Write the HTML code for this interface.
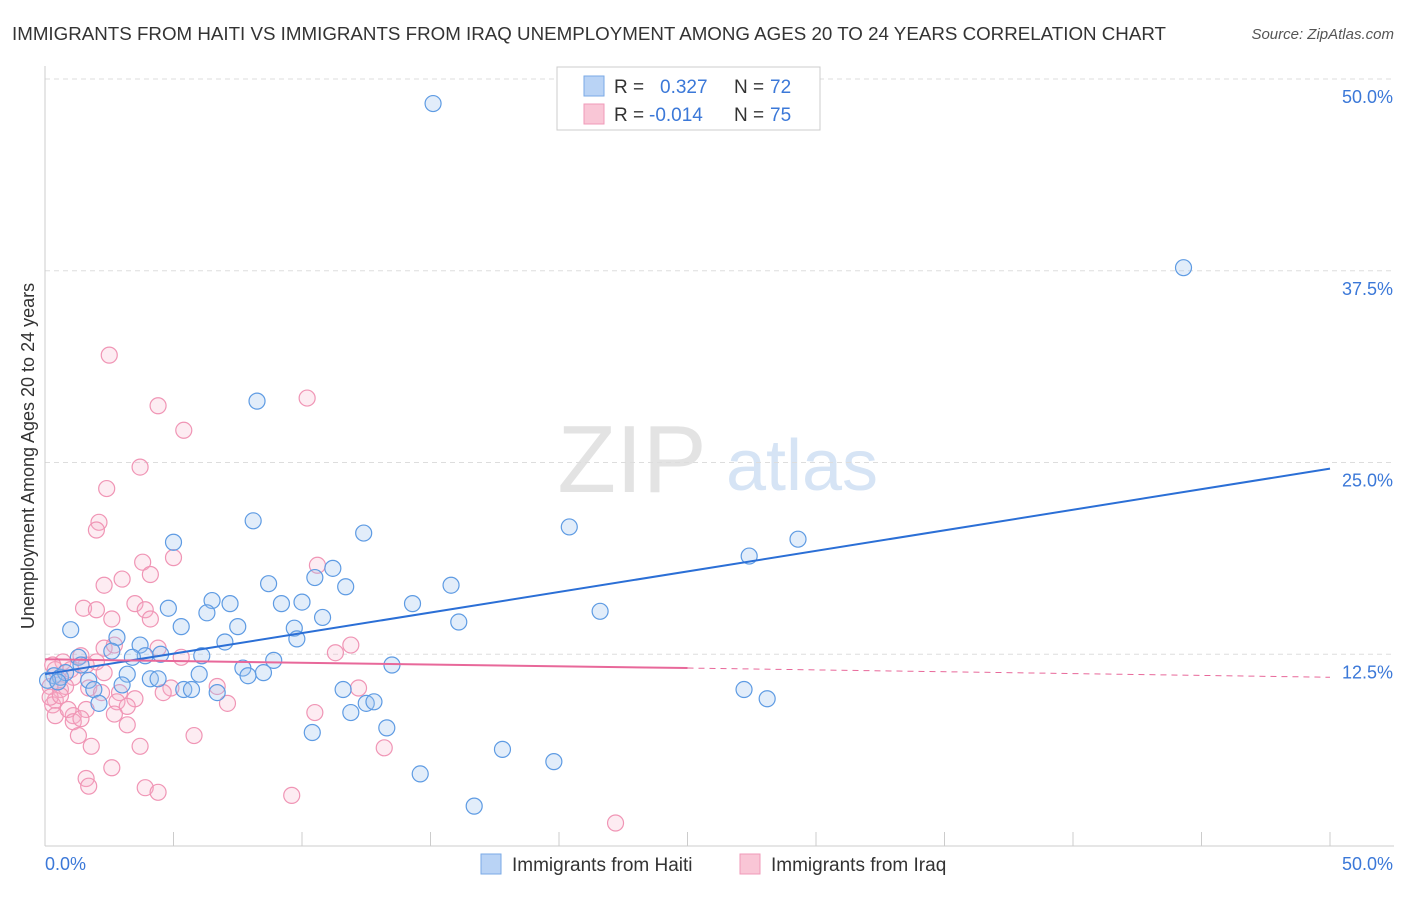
<!DOCTYPE html>
<html><head><meta charset="utf-8"><style>
body{margin:0;background:#fff;font-family:"Liberation Sans",sans-serif;}
svg text{font-family:"Liberation Sans",sans-serif;}
</style></head><body>
<svg id="chart" width="1406" height="892" viewBox="0 0 1406 892" xmlns="http://www.w3.org/2000/svg">
<text x="12" y="40" font-size="18.5" fill="#333" textLength="1154" lengthAdjust="spacingAndGlyphs">IMMIGRANTS FROM HAITI VS IMMIGRANTS FROM IRAQ UNEMPLOYMENT AMONG AGES 20 TO 24 YEARS CORRELATION CHART</text>
<text x="1394" y="39" font-size="15" fill="#555" font-style="italic" text-anchor="end">Source: ZipAtlas.com</text>
<g>
<text x="632" y="492" font-size="96" fill="#e3e3e3" font-family="Liberation Serif, serif" text-anchor="middle">ZIP</text>
<text x="802" y="490" font-size="72" fill="#d6e4f5" text-anchor="middle">atlas</text>
</g>
<g id="grid"></g>
<g id="axes"></g>
<g id="pts"></g>
<g id="lines"></g>
<g>
<rect x="557" y="67" width="263" height="63" fill="#fff" stroke="#ccc"/>
<rect x="584" y="76" width="20" height="20" fill="#b9d3f5" stroke="#7aa9e6"/>
<rect x="584" y="104" width="20" height="20" fill="#f9c6d6" stroke="#f09ab8"/>
<text x="614" y="93" font-size="19" fill="#333">R = </text><text x="660" y="93" font-size="19" fill="#3b78d8">0.327</text>
<text x="734" y="93" font-size="19" fill="#333">N = </text><text x="770" y="93" font-size="19" fill="#3b78d8">72</text>
<text x="614" y="121" font-size="19" fill="#333">R = </text><text x="649" y="121" font-size="19" fill="#3b78d8">-0.014</text>
<text x="734" y="121" font-size="19" fill="#333">N = </text><text x="770" y="121" font-size="19" fill="#3b78d8">75</text>
</g>
<g>
<rect x="481" y="854" width="20" height="20" fill="#b9d3f5" stroke="#7aa9e6"/>
<text x="512" y="871" font-size="19" fill="#333">Immigrants from Haiti</text>
<rect x="740" y="854" width="20" height="20" fill="#f9c6d6" stroke="#f09ab8"/>
<text x="771" y="871" font-size="19" fill="#333">Immigrants from Iraq</text>
</g>
</svg>
<script>
const yTicks=[12.5,25,37.5,50];
const yTickLabels=["12.5%","25.0%","37.5%","50.0%"];
const haitiX=[15.1,44.3,8.25,8.1,12.4,20.4,29.3,27.4,5.0,11.2,10.5,8.7,11.7,15.8,6.5,7.2,9.2,10.0,6.3,4.8,14.3,21.6,10.8,16.1,5.3,1.0,7.5,9.7,2.8,3.7,7.0,9.8,2.6,4.5,3.9,3.4,6.1,1.3,1.4,8.9,13.5,7.7,3.2,6.0,8.5,7.9,0.35,0.6,0.8,1.7,3.0,4.1,4.4,5.4,5.7,6.7,1.9,11.6,27.2,28.1,12.5,12.8,2.1,11.9,13.3,10.4,17.8,19.8,14.6,16.7,0.1,0.5];
const haitiY=[48.4,37.7,29.0,21.2,20.4,20.8,20.0,18.9,19.8,18.1,17.5,17.1,16.9,17.0,16.0,15.8,15.8,15.9,15.2,15.5,15.8,15.3,14.9,14.6,14.3,14.1,14.3,14.2,13.6,13.1,13.3,13.5,12.7,12.5,12.4,12.3,12.4,12.3,11.8,12.1,11.8,11.6,11.2,11.2,11.3,11.1,11.1,11.0,11.3,10.8,10.5,10.9,10.9,10.2,10.2,10.0,10.2,10.2,10.2,9.6,9.3,9.4,9.3,8.7,7.7,7.4,6.3,5.5,4.7,2.6,10.8,10.7];
const iraqX=[2.5,10.2,4.4,5.4,3.7,2.4,2.1,2.0,3.8,5.0,4.1,3.0,2.3,3.5,1.5,2.0,3.9,4.1,10.6,2.6,4.4,11.9,2.3,2.7,5.3,1.4,0.7,11.3,1.6,2.0,1.0,0.4,0.3,1.1,0.2,0.6,0.8,0.5,2.3,1.7,2.9,2.2,3.5,4.9,4.6,6.7,7.1,12.2,0.4,0.3,0.4,1.1,0.9,2.8,3.2,1.6,2.7,1.1,3.2,1.3,5.8,10.5,1.8,3.7,13.2,2.6,1.6,1.7,3.9,4.4,9.6,22.2,0.2,0.6,1.4];
const iraqY=[32.0,29.2,28.7,27.1,24.7,23.3,21.1,20.6,18.5,18.8,17.7,17.4,17.0,15.8,15.5,15.4,15.4,14.8,18.3,14.8,12.9,13.1,12.9,13.1,12.3,12.4,12.0,12.6,11.8,12.0,11.5,11.5,11.8,11.0,10.4,10.2,10.4,10.7,11.3,10.3,10.0,10.0,9.6,10.3,10.0,10.4,9.3,10.3,9.5,9.2,8.5,8.5,8.9,9.4,9.1,8.9,8.6,8.1,7.9,7.2,7.2,8.7,6.5,6.5,6.4,5.1,4.4,3.9,3.8,3.5,3.3,1.5,9.7,9.8,8.3];
const haitiTrend=[11.2,24.6];
const iraqTrend=[12.17,11.6,11.0];
const NS="http://www.w3.org/2000/svg";
const X0=45,X1=1330,Y0=846,YT=79;
const sx=v=>X0+(X1-X0)*v/50;
const sy=v=>Y0-(Y0-YT)*v/50;
function mk(tag,attrs,parent){const e=document.createElementNS(NS,tag);for(const k in attrs)e.setAttribute(k,attrs[k]);document.getElementById(parent).appendChild(e);return e;}
yTicks.forEach((t,i)=>{
 const l=mk('line',{x1:X0,x2:1394,y1:sy(t),y2:sy(t),stroke:'#ddd','stroke-dasharray':'5,4'},'grid');
 
 
 const tx=mk('text',{x:1393,y:sy(t)+24,'font-size':18,fill:'#3b78d8','text-anchor':'end'},'grid');
 tx.textContent=yTickLabels[i];
 
 
});
const ax=mk('line',{x1:X0,x2:1394,y1:Y0,y2:Y0,stroke:'#ccc'},'axes');


const ay=mk('line',{x1:X0,x2:X0,y1:66,y2:Y0,stroke:'#ccc'},'axes');


for(let v=5;v<=50;v+=5){const t=mk('line',{x1:sx(v),x2:sx(v),y1:Y0,y2:Y0-14,stroke:'#ccc'},'axes');
 
 }
let t0=mk('text',{x:45,y:870,'font-size':18,fill:'#3b78d8'},'axes');t0.textContent='0.0%';


let t1=mk('text',{x:1393,y:870,'font-size':18,fill:'#3b78d8','text-anchor':'end'},'axes');t1.textContent='50.0%';


let yt=mk('text',{x:0,y:0,'font-size':18,fill:'#333','text-anchor':'middle',transform:'translate(34,456) rotate(-90)'},'axes');
yt.textContent='Unemployment Among Ages 20 to 24 years';


iraqX.forEach((x,i)=>{const c=mk('circle',{cx:sx(x),cy:sy(iraqY[i]),r:8,fill:'rgba(248,180,205,0.25)',stroke:'#f095b5','stroke-width':1.2},'pts');
 
 });
haitiX.forEach((x,i)=>{const c=mk('circle',{cx:sx(x),cy:sy(haitiY[i]),r:8,fill:'rgba(160,196,240,0.3)',stroke:'#5e9be3','stroke-width':1.2},'pts');
 
 });
const hl=mk('line',{x1:sx(0),y1:sy(haitiTrend[0]),x2:sx(50),y2:sy(haitiTrend[1]),stroke:'#2b6fd6','stroke-width':2},'lines');


const il=mk('line',{x1:sx(0),y1:sy(iraqTrend[0]),x2:sx(25),y2:sy(iraqTrend[1]),stroke:'#e8689a','stroke-width':2},'lines');


const id=mk('line',{x1:sx(25),y1:sy(iraqTrend[1]),x2:sx(50),y2:sy(iraqTrend[2]),stroke:'#e8689a','stroke-width':1,'stroke-dasharray':'6,5'},'lines');


</script>
</body></html>
